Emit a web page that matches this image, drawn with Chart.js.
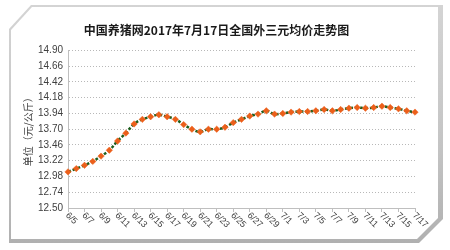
<!DOCTYPE html>
<html>
<head>
<meta charset="utf-8">
<script src="https://cdn.jsdelivr.net/npm/chart.js@4"></script>
<style>
  html, body { margin: 0; padding: 0; background: #ffffff; width: 450px; height: 250px; overflow: hidden; }
  #frameOuter { position: absolute; left: 9px; top: 5px; width: 434px; height: 238px;
    background: linear-gradient(180deg, #d4d4d4, #c4c4c4 60%, #b0b0b0);
    clip-path: polygon(22px 0, 100% 0, 100% calc(100% - 24px), calc(100% - 24px) 100%, 0 100%, 0 24px); }
  #frameInner { position: absolute; left: 11px; top: 7px; width: 427px; height: 232px; background: #ffffff;
    clip-path: polygon(21px 0, 100% 0, 100% calc(100% - 21px), calc(100% - 21px) 100%, 0 100%, 0 23px); }
  #wrap { position: absolute; left: 0; top: 0; width: 450px; height: 250px; }
</style>
</head>
<body>
<div id="frameOuter"></div>
<div id="frameInner"></div>
<div id="wrap"><canvas id="c" width="450" height="250"></canvas></div>
<script>
const chartTitle = '中国养猪网2017年7月17日全国外三元均价走势图';
const yAxisTitle = '单位（元/公斤）';
const categories = [
  '6/5','6/6','6/7','6/8','6/9','6/10','6/11','6/12','6/13','6/14','6/15','6/16','6/17','6/18',
  '6/19','6/20','6/21','6/22','6/23','6/24','6/25','6/26','6/27','6/28','6/29','6/30',
  '7/1','7/2','7/3','7/4','7/5','7/6','7/7','7/8','7/9','7/10','7/11','7/12','7/13','7/14',
  '7/15','7/16','7/17'
];
const prices = [
  13.05, 13.10, 13.15, 13.21, 13.29, 13.38, 13.52, 13.64, 13.78, 13.85, 13.89, 13.92, 13.89, 13.85,
  13.77, 13.70, 13.66, 13.70, 13.70, 13.73, 13.80, 13.85, 13.90, 13.93, 13.98, 13.93,
  13.94, 13.96, 13.97, 13.97, 13.98, 14.00, 13.98, 14.00, 14.02, 14.03, 14.02, 14.03, 14.05, 14.03,
  14.01, 13.98, 13.96
];
const yTickValues = [12.50, 12.74, 12.98, 13.22, 13.46, 13.70, 13.94, 14.18, 14.42, 14.66, 14.90];
const xLabelEvery = 2;

const xLabelPlugin = {
  id: 'xLabels',
  afterDraw(chart) {
    const xs = chart.scales.x;
    const ctx = chart.ctx;
    ctx.save();
    ctx.font = '9px "Liberation Sans", Arial, sans-serif';
    ctx.fillStyle = '#404040';
    ctx.textAlign = 'left';
    ctx.textBaseline = 'middle';
    categories.forEach((lab, i) => {
      if (i % xLabelEvery !== 0) return;
      const x = xs.getPixelForValue(i);
      ctx.save();
      ctx.translate(x - 1, xs.top + 6);
      ctx.rotate(Math.PI / 4);
      ctx.fillText(lab, 0, 0);
      ctx.restore();
    });
    ctx.restore();
  }
};

new Chart(document.getElementById('c'), {
  type: 'line',
  data: {
    labels: categories,
    datasets: [{
      data: prices,
      borderColor: '#1d5e1d',
      borderWidth: 2.5,
      borderDash: [3, 2],
      tension: 0.4,
      pointStyle: 'rectRot',
      pointRadius: 3.2,
      pointBackgroundColor: '#ec5f1a',
      pointBorderColor: '#ec5f1a',
      pointBorderWidth: 0.5,
      fill: false
    }]
  },
  options: {
    responsive: false,
    animation: false,
    devicePixelRatio: 1,
    layout: { padding: { left: 18, right: 35, top: 20, bottom: 38 } },
    plugins: {
      legend: { display: false },
      tooltip: { enabled: false },
      title: {
        display: true,
        text: chartTitle,
        color: '#1a1a1a',
        font: { family: '"Noto Sans CJK SC", sans-serif', size: 12, weight: 'bold', lineHeight: 1.2 },
        padding: { top: 3, bottom: 13 }
      }
    },
    scales: {
      x: {
        type: 'category',
        offset: false,
        ticks: { display: false, autoSkip: false },
        grid: {
          drawOnChartArea: false,
          drawTicks: true,
          tickLength: 4,
          color: (c) => (c.index % xLabelEvery === 0 ? '#bfbfbf' : 'rgba(0,0,0,0)')
        },
        border: { display: true, color: '#bfbfbf', width: 1 }
      },
      y: {
        min: 12.50,
        max: 14.90,
        afterBuildTicks: (s) => { s.ticks = yTickValues.map(v => ({ value: v })); },
        afterFit: (s) => { s.width = 50; },
        ticks: {
          padding: 5,
          color: '#404040',
          font: { family: '"Liberation Sans", Arial, sans-serif', size: 10 },
          callback: (v) => Number(v).toFixed(2)
        },
        grid: { drawTicks: false, color: '#b8b8b8', lineWidth: 1 },
        border: { display: true, color: '#bfbfbf', dash: [1, 2] },
        title: {
          display: true,
          text: yAxisTitle,
          color: '#404040',
          font: { family: '"Noto Sans CJK SC", sans-serif', size: 10 },
          padding: { top: 4, bottom: 0 }
        }
      }
    }
  },
  plugins: [xLabelPlugin]
});
</script>
</body>
</html>
